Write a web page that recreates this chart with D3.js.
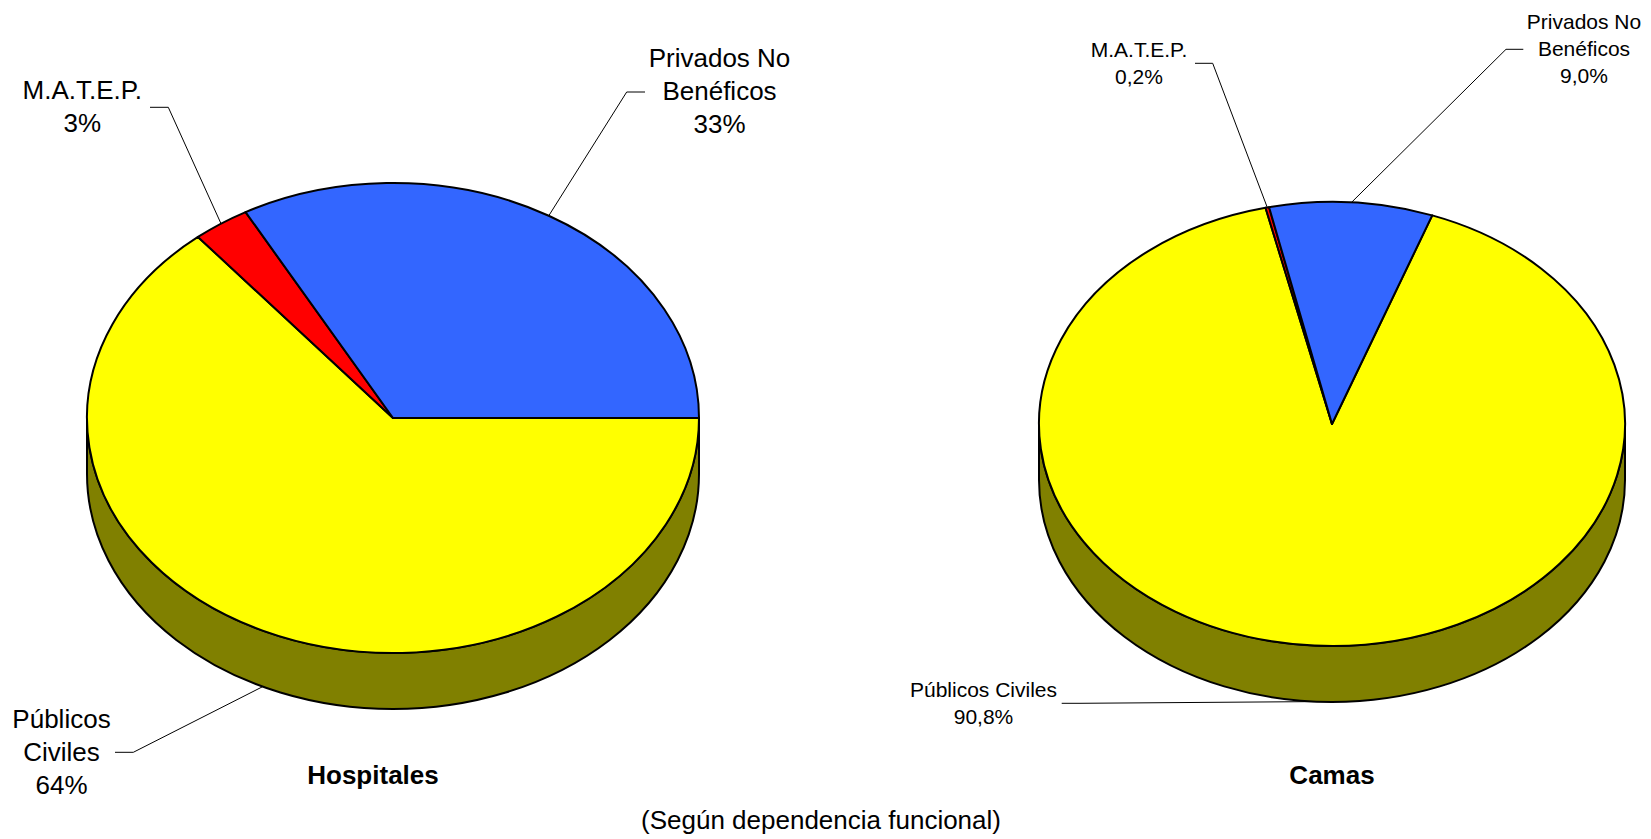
<!DOCTYPE html>
<html>
<head>
<meta charset="utf-8">
<script src="https://cdn.jsdelivr.net/npm/d3@7/dist/d3.min.js"></script>
<style>
  html, body { margin: 0; padding: 0; background: #ffffff; }
  svg { display: block; }
  text { font-family: "Liberation Sans", Arial, Helvetica, sans-serif; fill: #000; }
</style>
</head>
<body>
<svg id="chart" width="1651" height="839"></svg>
<script>
// ---- data ----
const categories = ["Públicos Civiles", "M.A.T.E.P.", "Privados No Beneficos"];
const categoryLines = [["Públicos", "Civiles"], ["M.A.T.E.P."], ["Privados No", "Benéficos"]];
const categoryLinesCamas = [["Públicos Civiles"], ["M.A.T.E.P."], ["Privados No", "Benéficos"]];
const hospitalesValues = [64, 3, 33];
const camasValues = [90.8, 0.2, 9.0];
const chartTitles = ["Hospitales", "Camas"];
const subtitle = "(Según dependencia funcional)";
const sliceColors = ["#FFFF00", "#FF0000", "#3366FF"];
const sideColor = "#808000";

const svg = d3.select("#chart");

function pt(g, a, dy) {
  return [g.cx + g.rx * Math.sin(a), g.cy - g.ry * Math.cos(a) + (dy || 0)];
}

function drawPie(cfg) {
  const g = cfg.geom;
  const pie = d3.pie().sort(null).value(d => d)
    .startAngle(cfg.startDeg * Math.PI / 180)
    .endAngle(cfg.startDeg * Math.PI / 180 + 2 * Math.PI);
  const arcs = pie(cfg.values);
  const layer = svg.append("g");

  // side wall (front half: from 90deg to 270deg)
  const L = [g.cx - g.rx, g.cy], R = [g.cx + g.rx, g.cy];
  const side = `M${L[0]},${L[1]} L${L[0]},${L[1] + g.depth} ` +
    `A${g.rx},${g.ry} 0 0 0 ${R[0]},${R[1] + g.depth} L${R[0]},${R[1]} ` +
    `A${g.rx},${g.ry} 0 0 1 ${L[0]},${L[1]} Z`;
  layer.append("path").attr("d", side)
    .attr("fill", sideColor).attr("stroke", "#000").attr("stroke-width", 2)
    .attr("stroke-linejoin", "round");

  // top face slices
  layer.selectAll("path.slice").data(arcs).join("path")
    .attr("class", "slice")
    .attr("d", d => {
      const p0 = pt(g, d.startAngle), p1 = pt(g, d.endAngle);
      const large = (d.endAngle - d.startAngle) > Math.PI ? 1 : 0;
      return `M${g.cx},${g.cy} L${p0[0]},${p0[1]} A${g.rx},${g.ry} 0 ${large} 1 ${p1[0]},${p1[1]} Z`;
    })
    .attr("fill", (d, i) => sliceColors[i])
    .attr("stroke", "#000").attr("stroke-width", 2).attr("stroke-linejoin", "round");

  // labels with leader lines
  arcs.forEach((d, i) => {
    const lab = cfg.labels[i];
    const mid = (d.startAngle + d.endAngle) / 2;
    const cosm = Math.cos(mid);
    const edge = pt(g, mid, cosm < 0 ? g.depth : 0);
    svg.append("polyline")
      .attr("points", [lab.line[0], lab.line[1], edge].map(p => p.join(",")).join(" "))
      .attr("fill", "none").attr("stroke", "#000").attr("stroke-width", 1);
    const lines = cfg.lines[i].concat([cfg.fmt(cfg.values[i])]);
    const t = svg.append("text").attr("text-anchor", "middle")
      .attr("font-size", cfg.fontSize);
    lines.forEach((s, k) => {
      t.append("tspan").attr("x", lab.x).attr("y", lab.y + k * cfg.lineH).text(s);
    });
  });

  svg.append("text").attr("x", cfg.titleX).attr("y", 784)
    .attr("text-anchor", "middle").attr("font-size", 26).attr("font-weight", "bold")
    .text(cfg.title);
}

drawPie({
  values: hospitalesValues,
  lines: categoryLines,
  startDeg: 90,
  geom: { cx: 393, cy: 418, rx: 306, ry: 235, depth: 56 },
  fontSize: 26, lineH: 32.7,
  fmt: v => d3.format("d")(v) + "%",
  title: chartTitles[0], titleX: 373,
  labels: [
    { x: 61.5, y: 728.3, line: [[115, 752.3], [133.3, 752.3]] },
    { x: 82.3, y: 99, line: [[150, 107.3], [168.3, 107.3]] },
    { x: 719.5, y: 67.3, line: [[645, 92], [626.7, 92]] }
  ]
});

drawPie({
  values: camasValues,
  lines: categoryLinesCamas,
  startDeg: 20,
  geom: { cx: 1332, cy: 424, rx: 293, ry: 222, depth: 56 },
  fontSize: 21, lineH: 26.8,
  fmt: v => d3.format(".1f")(v).replace(".", ",") + "%",
  title: chartTitles[1], titleX: 1332,
  labels: [
    { x: 983.5, y: 696.7, line: [[1061.7, 703.3], [1080, 703.3]] },
    { x: 1139, y: 56.7, line: [[1195, 63.3], [1212.7, 63.3]] },
    { x: 1584, y: 29.3, line: [[1523.3, 49.3], [1506, 49.3]] }
  ]
});

svg.append("text").attr("x", 821).attr("y", 829)
  .attr("text-anchor", "middle").attr("font-size", 26)
  .text(subtitle);
</script>
</body>
</html>
